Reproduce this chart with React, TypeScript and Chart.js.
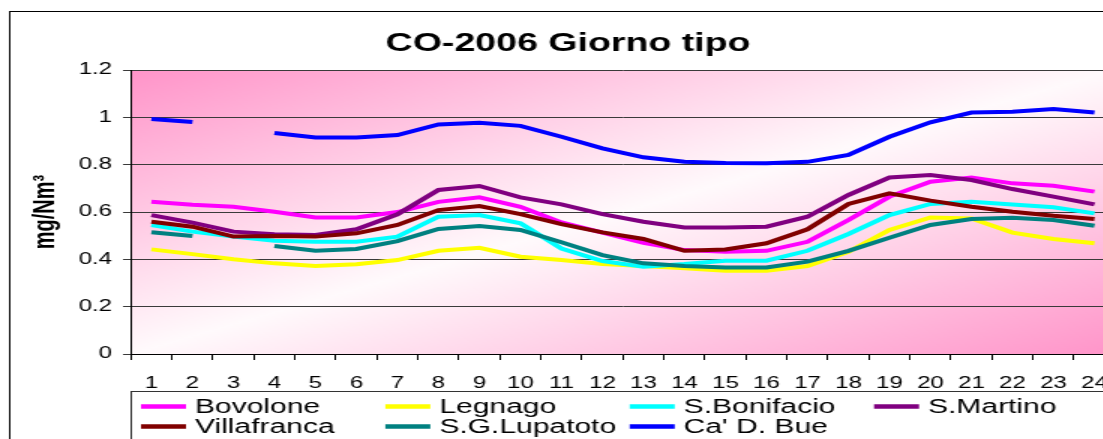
import React, { useEffect, useRef } from 'react';
import { Chart, registerables } from 'chart.js';

Chart.register(...registerables);

// ---------- data ----------
const hours = ['1', '2', '3', '4', '5', '6', '7', '8', '9', '10', '11', '12', '13', '14', '15', '16', '17', '18', '19', '20', '21', '22', '23', '24'];
const yTickLabels = ['0', '0.2', '0.4', '0.6', '0.8', '1', '1.2'];

const bovolone = [0.643, 0.631, 0.622, 0.601, 0.577, 0.577, 0.600, 0.643, 0.662, 0.622, 0.556, 0.513, 0.470, 0.439, 0.432, 0.436, 0.474, 0.566, 0.665, 0.728, 0.746, 0.721, 0.711, 0.686];
const legnago = [0.442, 0.422, 0.400, 0.383, 0.372, 0.379, 0.397, 0.436, 0.449, 0.411, 0.397, 0.380, 0.372, 0.362, 0.352, 0.352, 0.372, 0.432, 0.524, 0.577, 0.573, 0.513, 0.486, 0.468];
const sBonifacio = [0.545, 0.517, 0.496, 0.479, 0.474, 0.474, 0.496, 0.580, 0.587, 0.552, 0.446, 0.393, 0.369, 0.380, 0.394, 0.394, 0.436, 0.507, 0.587, 0.634, 0.643, 0.632, 0.620, 0.594];
const sMartino = [0.587, 0.555, 0.517, 0.506, 0.503, 0.527, 0.590, 0.693, 0.710, 0.662, 0.632, 0.591, 0.559, 0.535, 0.535, 0.538, 0.580, 0.672, 0.746, 0.756, 0.735, 0.697, 0.665, 0.632];
const villafranca = [0.559, 0.538, 0.496, 0.499, 0.496, 0.510, 0.545, 0.608, 0.625, 0.591, 0.549, 0.514, 0.486, 0.436, 0.442, 0.468, 0.527, 0.634, 0.679, 0.648, 0.622, 0.601, 0.584, 0.570];
const sgLupatoto = [0.514, 0.499, null, 0.456, 0.436, 0.444, 0.477, 0.528, 0.541, 0.524, 0.472, 0.418, 0.383, 0.372, 0.366, 0.366, 0.390, 0.436, 0.491, 0.545, 0.570, 0.576, 0.566, 0.542];
const caDBue = [0.993, 0.980, null, 0.934, 0.915, 0.915, 0.925, 0.970, 0.977, 0.964, 0.918, 0.869, 0.831, 0.812, 0.807, 0.806, 0.812, 0.841, 0.918, 0.979, 1.020, 1.024, 1.035, 1.020];

const seriesNames = ['Bovolone', 'Legnago', 'S.Bonifacio', 'S.Martino', 'Villafranca', 'S.G.Lupatoto', "Ca' D. Bue"];
const seriesValues = [bovolone, legnago, sBonifacio, sMartino, villafranca, sgLupatoto, caDBue];
const seriesColors = ['#FF00FF', '#FFFF00', '#00FFFF', '#800080', '#800000', '#008080', '#0000FF'];

const chartTitle = 'CO-2006 Giorno tipo';
const yTitle = 'mg/Nm³';

// ---------- look ----------
const FONT = '"Liberation Sans", Arial, Helvetica, sans-serif';
const CW = 757;
const CH = 460;
const STRETCH = 1.5;

export default function App() {
  const ref = useRef<HTMLCanvasElement>(null);

  useEffect(() => {
    if (!ref.current) return;
    Chart.defaults.font.family = FONT;

    const bgPlugin = {
      id: 'bgPlugin',
      beforeDraw(chart: any) {
        const { ctx, chartArea: a } = chart;
        ctx.save();
        ctx.fillStyle = '#ffffff';
        ctx.fillRect(0, 0, chart.width, chart.height);
        const w = a.right - a.left;
        const h = a.bottom - a.top;
        const cx = (a.left + a.right) / 2;
        const cy = (a.top + a.bottom) / 2;
        const len = Math.hypot(w, h);
        const ux = h / len;
        const uy = w / len;
        const half = (w * h) / len;
        const g = ctx.createLinearGradient(cx - half * ux, cy - half * uy, cx + half * ux, cy + half * uy);
        g.addColorStop(0, 'rgb(255,148,201)');
        g.addColorStop(0.5, 'rgb(255,250,252)');
        g.addColorStop(1, 'rgb(255,148,201)');
        ctx.fillStyle = g;
        ctx.fillRect(a.left, a.top, w, h);
        // outer frame
        ctx.strokeStyle = '#000';
        ctx.lineWidth = 1;
        ctx.strokeRect(6.5, 11.5, chart.width - 13, chart.height + 20);
        ctx.restore();
      },
    };

    const legendPlugin = {
      id: 'gridLegend',
      afterDraw(chart: any) {
        const { ctx, chartArea: a } = chart;
        ctx.save();
        ctx.strokeStyle = '#333';
        ctx.lineWidth = 1;
        ctx.strokeRect(Math.round(a.left) + 0.5, 391.5, chart.width, 120);
        ctx.font = `20px ${FONT}`;
        ctx.textBaseline = 'alphabetic';
        ctx.textAlign = 'left';
        chart.data.datasets.forEach((ds: any, i: number) => {
          const col = i % 4;
          const row = Math.floor(i / 4);
          const sx = 94 + col * 162.9;
          const cyL = row === 0 ? 406.5 : 426.5;
          ctx.strokeStyle = ds.borderColor;
          ctx.lineWidth = 4.5;
          ctx.beginPath();
          ctx.moveTo(sx, cyL);
          ctx.lineTo(sx + 30, cyL);
          ctx.stroke();
          ctx.fillStyle = '#000';
          ctx.fillText(ds.label, sx + 36, cyL + 6.5);
        });
        ctx.restore();
      },
    };

    const n = seriesNames.length;
    const chart = new Chart(ref.current, {
      type: 'line',
      data: {
        labels: hours,
        datasets: seriesNames.map((name, i) => ({
          label: name,
          data: seriesValues[i],
          borderColor: seriesColors[i],
          backgroundColor: seriesColors[i],
          borderWidth: 4,
          pointRadius: 0,
          pointHoverRadius: 0,
          tension: 0,
          spanGaps: false,
          fill: false,
          order: n - 1 - i,
        })),
      },
      options: {
        responsive: false,
        animation: false,
        devicePixelRatio: 1,
        layout: { padding: { left: 14, right: 13.7, top: 14, bottom: 70 } },
        plugins: {
          legend: { display: false },
          tooltip: { enabled: false },
          title: {
            display: true,
            text: chartTitle,
            color: '#000',
            font: { family: FONT, size: 25, weight: 'bold' },
            padding: { top: 15, bottom: 11 },
          },
        },
        scales: {
          x: {
            type: 'category',
            offset: true,
            grid: {
              display: true,
              drawOnChartArea: false,
              drawTicks: true,
              tickLength: 6,
              offset: true,
              color: '#000',
            },
            border: { display: true, color: '#000' },
            ticks: {
              color: '#000',
              font: { family: FONT, size: 16 },
              padding: 14,
              maxRotation: 0,
              autoSkip: false,
            },
            afterFit: (s: any) => {
              s.height = 36;
            },
          },
          y: {
            min: 0,
            max: 1.2,
            ticks: {
              stepSize: 0.2,
              color: '#000',
              font: { family: FONT, size: 16 },
              padding: 7.3,
              callback: (_v: any, i: number) => yTickLabels[i],
            },
            grid: { color: '#3a3a3a', lineWidth: 1, tickLength: 5.3 },
            border: { display: true, color: '#000' },
            title: {
              display: true,
              text: yTitle,
              color: '#000',
              font: { family: FONT, size: 20, weight: 'bold' },
              padding: { top: 4, bottom: 0 },
            },
            afterFit: (s: any) => {
              s.width = 73.3;
            },
          },
        },
      },
      plugins: [bgPlugin, legendPlugin],
    });

    return () => chart.destroy();
  }, []);

  return (
    <div
      style={{
        position: 'fixed',
        left: 0,
        top: 0,
        width: 1103,
        height: 439,
        overflow: 'hidden',
        background: '#fff',
      }}
    >
      <canvas
        ref={ref}
        width={CW}
        height={CH}
        style={{
          display: 'block',
          width: `${CW}px`,
          height: `${CH}px`,
          transform: `scaleX(${STRETCH})`,
          transformOrigin: '0 0',
        }}
      />
    </div>
  );
}
